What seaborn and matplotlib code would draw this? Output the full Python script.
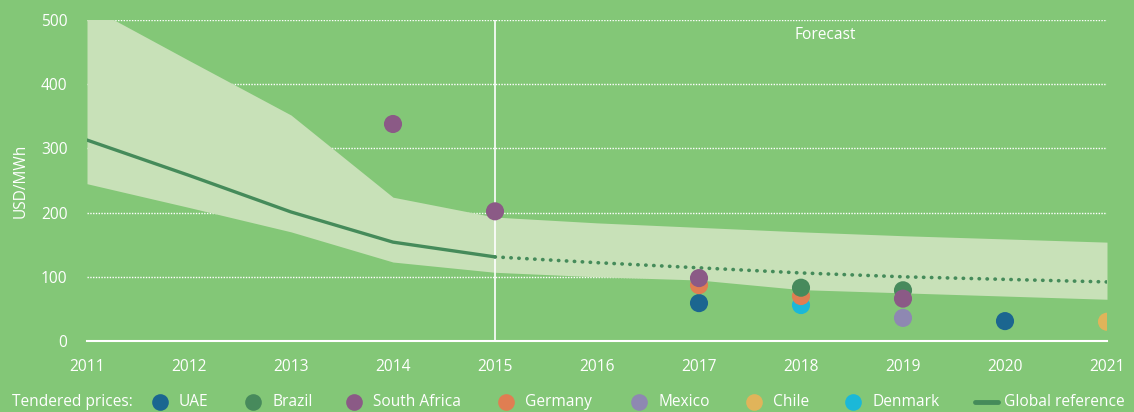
import matplotlib
matplotlib.use("Agg")
import matplotlib.pyplot as plt
from matplotlib.lines import Line2D
import seaborn as sns
import pandas as pd

# band of global solar PV costs (low / high) and reference line
years = [2011, 2012, 2013, 2014, 2015, 2016, 2017, 2018, 2019, 2020, 2021]
band_low = [245, 208, 170, 123, 107, 100, 95, 80, 75, 70, 65]
band_high = [523, 437, 352, 224, 193, 184, 177, 170, 164, 159, 154]

ref_years = [2011, 2012, 2013, 2014, 2015]
ref_values = [313, 258, 201, 154, 131]
forecast_years = [2015, 2016, 2017, 2018, 2019, 2020, 2021]
forecast_values = [131, 122, 114, 106, 100, 96, 92]

# tendered prices (row order = draw order)
tender_country = ["UAE", "UAE", "Denmark", "Germany", "Germany", "Brazil", "Brazil",
                  "South Africa", "South Africa", "South Africa", "South Africa",
                  "Mexico", "Chile"]
tender_year = [2017, 2020, 2018, 2017, 2018, 2018, 2019, 2014, 2015, 2017, 2019, 2019, 2021]
tender_price = [59, 31, 56, 87, 70, 83, 79, 338, 202, 98, 66, 36, 30]

legend_order = ["UAE", "Brazil", "South Africa", "Germany", "Mexico", "Chile", "Denmark"]
colors = {
    "UAE": "#1B6690",
    "Brazil": "#478A5C",
    "South Africa": "#8B5A86",
    "Germany": "#E07E52",
    "Mexico": "#8E88B2",
    "Chile": "#E0B45A",
    "Denmark": "#1BB8D8",
}

bg = "#83C777"
band_color = "#C8E1B8"
line_color = "#458B5A"
W, H = 1134, 412
fs = 11.2

sns.set_style("white")
plt.rcParams["font.family"] = ["Open Sans", "DejaVu Sans"]

fig = plt.figure(figsize=(W / 100, H / 100), dpi=100, facecolor=bg)
ax = fig.add_axes([87 / W, 1 - 341 / H, 1020 / W, 321 / H])
ax.set_facecolor(bg)

ax.fill_between(years, band_low, band_high, color=band_color, linewidth=0, zorder=1)

for y in [100, 200, 300, 400, 500]:
    ax.axhline(y, color="white", linestyle=(0, (1, 1)), linewidth=1, zorder=0.5)
ax.axvline(2015, color="white", linewidth=1.2, zorder=2)

hist = pd.DataFrame({"year": ref_years, "value": ref_values})
fc = pd.DataFrame({"year": forecast_years, "value": forecast_values})
sns.lineplot(data=hist, x="year", y="value", ax=ax, color=line_color, linewidth=2.4, zorder=3)
sns.lineplot(data=fc, x="year", y="value", ax=ax, color=line_color, linewidth=2.6,
             linestyle=(0, (0.1, 2.1)), dash_capstyle="round", zorder=3)

tenders = pd.DataFrame({"country": tender_country, "year": tender_year, "price": tender_price})
sns.scatterplot(data=tenders, x="year", y="price", hue="country", palette=colors,
                s=170, linewidth=0, ax=ax, legend=False, zorder=4)

ax.text(2018.24, 477, "Forecast", color="white", ha="center", va="center", fontsize=fs)

ax.set_xlim(2011, 2021)
ax.set_ylim(0, 500)
ax.set_xticks(years)
ax.set_yticks([0, 100, 200, 300, 400, 500])
ax.tick_params(length=0, colors="white", labelsize=fs)
ax.tick_params(axis="x", pad=13)
ax.tick_params(axis="y", pad=14)
ax.set_xlabel("")
ax.set_ylabel("USD/MWh", color="white", fontsize=fs, labelpad=9)
for side in ["top", "right", "left"]:
    ax.spines[side].set_visible(False)
ax.spines["bottom"].set_color("white")
ax.spines["bottom"].set_linewidth(1.5)
ax.spines["bottom"].set_zorder(2)

# legend row along the bottom
ly = 1 - 402 / H
fig.text(12 / W, ly, "Tendered prices:", color="white", fontsize=fs, ha="left", va="center")
marker_x = [160, 253, 354, 506, 639, 754, 853]
for name, mx in zip(legend_order, marker_x):
    fig.add_artist(Line2D([mx / W], [ly], transform=fig.transFigure, marker="o",
                          markersize=12, markerfacecolor=colors[name], markeredgewidth=0,
                          linestyle=""))
    fig.text((mx + 19) / W, ly, name, color="white", fontsize=fs, ha="left", va="center")
fig.add_artist(Line2D([975 / W, 998 / W], [ly, ly], transform=fig.transFigure,
                      color=line_color, linewidth=3.5))
fig.text(1004 / W, ly, "Global reference", color="white", fontsize=fs, ha="left", va="center")

fig.savefig("out.png", dpi=100, facecolor=bg)
